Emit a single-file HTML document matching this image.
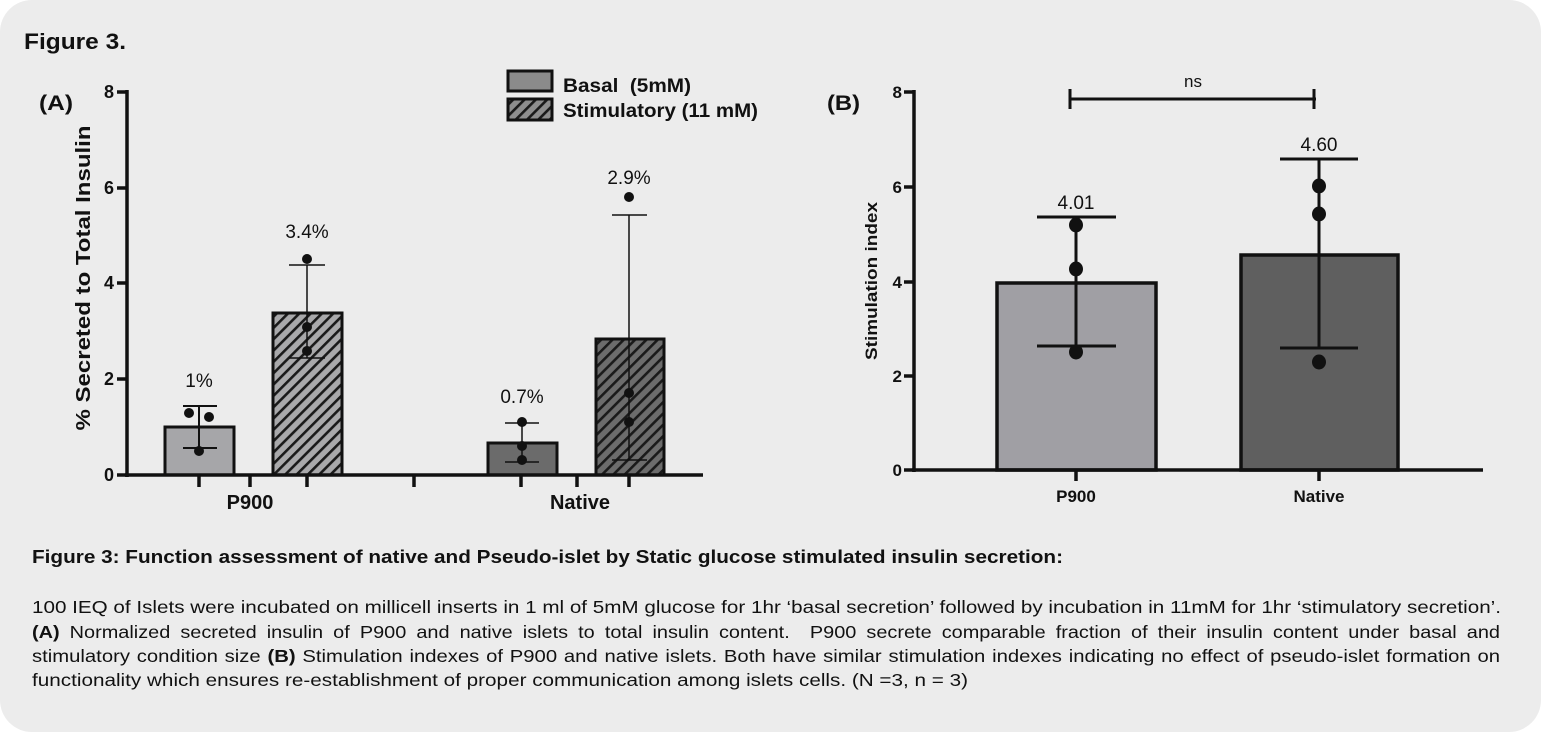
<!DOCTYPE html>
<html><head><meta charset="utf-8"><style>
html,body{margin:0;padding:0;background:#fff;}
svg{display:block;}
text{font-family:"Liberation Sans",Arial,sans-serif;fill:#111;}
.b{font-weight:bold;}
</style></head><body>
<svg width="1541" height="732" viewBox="0 0 1541 732" xmlns="http://www.w3.org/2000/svg">
<defs>
<pattern id="hL" patternUnits="userSpaceOnUse" width="8" height="8" patternTransform="rotate(45)">
<rect width="8" height="8" fill="#a9a9ab"/><rect x="0" y="0" width="2.6" height="8" fill="#1a1a1a"/></pattern>
<pattern id="hD" patternUnits="userSpaceOnUse" width="8" height="8" patternTransform="rotate(45)">
<rect width="8" height="8" fill="#6c6c6c"/><rect x="0" y="0" width="2.6" height="8" fill="#1a1a1a"/></pattern>
<pattern id="hG" patternUnits="userSpaceOnUse" width="8" height="8" patternTransform="rotate(45)">
<rect width="8" height="8" fill="#8e8e8e"/><rect x="0" y="0" width="2.6" height="8" fill="#1a1a1a"/></pattern>
</defs>
<rect x="0" y="0" width="1541" height="732" rx="32" ry="32" fill="#ececec"/>

<text x="24" y="49" class="b" font-size="22" textLength="102" lengthAdjust="spacingAndGlyphs">Figure 3.</text>

<!-- Panel A -->
<text x="39" y="110" class="b" font-size="21" textLength="34" lengthAdjust="spacingAndGlyphs">(A)</text>
<text transform="translate(90,278) rotate(-90)" text-anchor="middle" class="b" font-size="20" textLength="305" lengthAdjust="spacingAndGlyphs">% Secreted to Total Insulin</text>
<g class="b" font-size="18" text-anchor="end">
<text x="114" y="98" class="b">8</text>
<text x="114" y="194" class="b">6</text>
<text x="114" y="289" class="b">4</text>
<text x="114" y="385" class="b">2</text>
<text x="114" y="481" class="b">0</text>
</g>
<!-- bars A -->
<rect x="165" y="427" width="69" height="48" fill="#a6a6a9" stroke="#111" stroke-width="3"/>
<rect x="273" y="313" width="69" height="162" fill="url(#hL)" stroke="#111" stroke-width="3"/>
<rect x="488" y="443" width="69" height="32" fill="#6b6b6b" stroke="#111" stroke-width="3"/>
<rect x="596" y="339" width="68" height="136" fill="url(#hD)" stroke="#111" stroke-width="3"/>
<!-- axes A -->
<g stroke="#111" stroke-width="3.5" fill="none">
<line x1="127" y1="90" x2="127" y2="477"/>
<line x1="117" y1="92" x2="127" y2="92"/>
<line x1="117" y1="188" x2="127" y2="188"/>
<line x1="117" y1="283" x2="127" y2="283"/>
<line x1="117" y1="379" x2="127" y2="379"/>
<line x1="117" y1="475" x2="127" y2="475"/>
<line x1="125" y1="475" x2="703" y2="475"/>
<line x1="199" y1="475" x2="199" y2="487"/>
<line x1="250" y1="475" x2="250" y2="487"/>
<line x1="307" y1="475" x2="307" y2="487"/>
<line x1="414" y1="475" x2="414" y2="487"/>
<line x1="521" y1="475" x2="521" y2="487"/>
<line x1="577" y1="475" x2="577" y2="487"/>
<line x1="629" y1="475" x2="629" y2="487"/>
</g>
<!-- error bars A -->
<g stroke="#111" fill="none">
<g stroke-width="2">
<line x1="199" y1="406" x2="199" y2="448"/><line x1="183" y1="406" x2="217" y2="406"/><line x1="183" y1="448" x2="217" y2="448"/>
</g>
<g stroke-width="1.5">
<line x1="307" y1="265" x2="307" y2="358"/><line x1="289" y1="265" x2="325" y2="265"/><line x1="289" y1="358" x2="325" y2="358"/>
<line x1="522" y1="423" x2="522" y2="462"/><line x1="505" y1="423" x2="539" y2="423"/><line x1="505" y1="462" x2="539" y2="462"/>
<line x1="629" y1="215" x2="629" y2="460"/><line x1="612" y1="215" x2="647" y2="215"/><line x1="612" y1="460" x2="647" y2="460"/>
</g>
</g>
<g fill="#111">
<circle cx="189" cy="413" r="5"/><circle cx="209" cy="417" r="5"/><circle cx="199" cy="451" r="5"/>
<circle cx="307" cy="259" r="5"/><circle cx="307" cy="327" r="5"/><circle cx="307" cy="351" r="5"/>
<circle cx="522" cy="422" r="5"/><circle cx="522" cy="446" r="5"/><circle cx="522" cy="460" r="5"/>
<circle cx="629" cy="197" r="5"/><circle cx="629" cy="393" r="5"/><circle cx="629" cy="422" r="5"/>
</g>
<g font-size="19" text-anchor="middle">
<text x="199" y="387">1%</text>
<text x="307" y="238">3.4%</text>
<text x="522" y="403">0.7%</text>
<text x="629" y="184">2.9%</text>
</g>
<text x="250" y="509" class="b" font-size="20" text-anchor="middle">P900</text>
<text x="580" y="509" class="b" font-size="20" text-anchor="middle">Native</text>
<!-- legend -->
<rect x="508" y="71" width="44" height="20" fill="#8b8b8b" stroke="#111" stroke-width="3"/>
<rect x="508" y="99" width="44" height="21" fill="url(#hG)" stroke="#111" stroke-width="3"/>
<text x="563" y="92" class="b" font-size="19.5" textLength="128" lengthAdjust="spacingAndGlyphs" xml:space="preserve">Basal  (5mM)</text>
<text x="563" y="117" class="b" font-size="19.5" textLength="195" lengthAdjust="spacingAndGlyphs">Stimulatory (11 mM)</text>

<!-- Panel B -->
<text x="827" y="110" class="b" font-size="21" textLength="33" lengthAdjust="spacingAndGlyphs">(B)</text>
<text transform="translate(877,281) rotate(-90)" text-anchor="middle" class="b" font-size="17" textLength="158" lengthAdjust="spacingAndGlyphs">Stimulation index</text>
<g font-size="17" text-anchor="end">
<text x="902" y="98" class="b">8</text>
<text x="902" y="193" class="b">6</text>
<text x="902" y="288" class="b">4</text>
<text x="902" y="382" class="b">2</text>
<text x="902" y="476" class="b">0</text>
</g>
<rect x="997" y="283" width="159" height="187" fill="#a09fa4" stroke="#111" stroke-width="3.5"/>
<rect x="1241" y="255" width="157" height="215" fill="#5f5f5f" stroke="#111" stroke-width="3.5"/>
<g stroke="#111" stroke-width="3.5" fill="none">
<line x1="914" y1="90" x2="914" y2="472"/>
<line x1="904" y1="92" x2="914" y2="92"/>
<line x1="904" y1="187" x2="914" y2="187"/>
<line x1="904" y1="282" x2="914" y2="282"/>
<line x1="904" y1="376" x2="914" y2="376"/>
<line x1="904" y1="470" x2="914" y2="470"/>
<line x1="912" y1="470" x2="1483" y2="470"/>
<line x1="1076" y1="470" x2="1076" y2="481"/>
<line x1="1319" y1="470" x2="1319" y2="481"/>
</g>
<g stroke="#111" stroke-width="3" fill="none">
<line x1="1076" y1="217" x2="1076" y2="346"/><line x1="1037" y1="217" x2="1116" y2="217"/><line x1="1037" y1="346" x2="1116" y2="346"/>
<line x1="1319" y1="159" x2="1319" y2="348"/><line x1="1280" y1="159" x2="1358" y2="159"/><line x1="1280" y1="348" x2="1358" y2="348"/>
<line x1="1069" y1="99" x2="1316" y2="99"/><line x1="1070" y1="89" x2="1070" y2="109"/><line x1="1314" y1="89" x2="1314" y2="109"/>
</g>
<g fill="#111">
<ellipse cx="1076" cy="225" rx="7" ry="7.5"/><ellipse cx="1076" cy="269" rx="7" ry="7.5"/><ellipse cx="1076" cy="352" rx="7" ry="7.5"/>
<ellipse cx="1319" cy="186" rx="7" ry="7.5"/><ellipse cx="1319" cy="214" rx="7" ry="7.5"/><ellipse cx="1319" cy="362" rx="7" ry="7.5"/>
</g>
<g font-size="19" text-anchor="middle">
<text x="1076" y="209">4.01</text>
<text x="1319" y="151">4.60</text>
<text x="1193" y="87" font-size="17">ns</text>
</g>
<text x="1076" y="502" class="b" font-size="17" text-anchor="middle">P900</text>
<text x="1319" y="502" class="b" font-size="17" text-anchor="middle">Native</text>

<!-- Caption -->
<text x="32" y="563" class="b" font-size="18" textLength="1031" lengthAdjust="spacingAndGlyphs">Figure 3: Function assessment of native and Pseudo-islet by Static glucose stimulated insulin secretion:</text>
<g font-size="17.5">
<text x="32" y="613" textLength="1469" lengthAdjust="spacingAndGlyphs">100 IEQ of Islets were incubated on millicell inserts in 1 ml of 5mM glucose for 1hr ‘basal secretion’ followed by incubation in 11mM for 1hr ‘stimulatory secretion’.</text>
<text x="32" y="638" textLength="1468" lengthAdjust="spacingAndGlyphs" word-spacing="4" xml:space="preserve"><tspan class="b">(A)</tspan> Normalized secreted insulin of P900 and native islets to total insulin content.  P900 secrete comparable fraction of their insulin content under basal and</text>
<text x="32" y="662" textLength="1468" lengthAdjust="spacingAndGlyphs" word-spacing="1">stimulatory condition size <tspan class="b">(B)</tspan> Stimulation indexes of P900 and native islets. Both have similar stimulation indexes indicating no effect of pseudo-islet formation on</text>
<text x="32" y="686" textLength="936" lengthAdjust="spacingAndGlyphs">functionality which ensures re-establishment of proper communication among islets cells. (N =3, n = 3)</text>
</g>
</svg>
</body></html>
